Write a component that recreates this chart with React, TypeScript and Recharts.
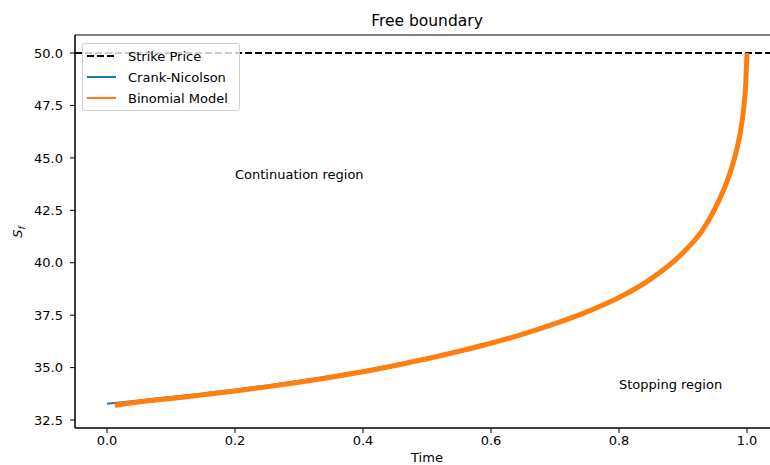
import React from "react";
import {
  LineChart,
  Line,
  XAxis,
  YAxis,
  ReferenceLine,
  ReferenceArea,
  ReferenceDot,
} from "recharts";

// Crank-Nicolson free boundary (time, S_f)
const cnTime = [0, 0.05, 0.1, 0.15, 0.2, 0.25, 0.3, 0.35, 0.4, 0.45, 0.5, 0.55, 0.6, 0.65, 0.7, 0.75, 0.8, 0.85, 0.9, 0.93, 0.95, 0.96, 0.97, 0.98, 0.985, 0.99, 0.995, 0.998, 1.0];
const cnValues = [33.28, 33.43, 33.6, 33.77, 33.95, 34.15, 34.37, 34.6, 34.86, 35.15, 35.47, 35.82, 36.2, 36.63, 37.12, 37.68, 38.36, 39.25, 40.5, 41.55, 42.6, 43.25, 44.0, 44.95, 45.55, 46.3, 47.4, 48.5, 50.0];

// Binomial model boundary (slightly below, starts one step later)
const binTime = [0.012, 0.05, 0.1, 0.15, 0.2, 0.25, 0.3, 0.35, 0.4, 0.45, 0.5, 0.55, 0.6, 0.65, 0.7, 0.75, 0.8, 0.85, 0.9, 0.93, 0.95, 0.96, 0.97, 0.98, 0.985, 0.99, 0.995, 0.998, 1.0];
const binValues = [33.2, 33.36, 33.53, 33.7, 33.88, 34.08, 34.3, 34.54, 34.8, 35.1, 35.42, 35.78, 36.16, 36.6, 37.1, 37.66, 38.34, 39.23, 40.48, 41.53, 42.58, 43.23, 43.98, 44.93, 45.53, 46.28, 47.4, 48.5, 50.0];

const strikePrice = 50;
const xTicks = [0, 0.2, 0.4, 0.6, 0.8, 1.0];
const yTicks = [32.5, 35, 37.5, 40, 42.5, 45, 47.5, 50];
const xDomain = [-0.05, 1.05];
const yDomain = [32.12, 50.86];

const cnData = cnTime.map((t, i) => ({ t, v: cnValues[i] }));
const binData = binTime.map((t, i) => ({ t, v: binValues[i] }));

const FONT = "'DejaVu Sans', sans-serif";
const BLUE = "#1f77b4";
const ORANGE = "#ff7f0e";

function Legend() {
  const rows = [
    { label: "Strike Price", color: "#000", dash: "7 3" },
    { label: "Crank-Nicolson", color: BLUE },
    { label: "Binomial Model", color: ORANGE },
  ];
  return (
    <div
      style={{
        position: "absolute",
        left: 82,
        top: 43,
        width: 156,
        height: 66,
        border: "1px solid #d0d0d0",
        borderRadius: 3,
        background: "rgba(255,255,255,0.8)",
        fontFamily: FONT,
        fontSize: 13,
        color: "#000",
      }}
    >
      {rows.map((r, i) => (
        <div
          key={r.label}
          style={{ position: "absolute", left: 0, top: 3 + i * 21, height: 18, display: "flex", alignItems: "center" }}
        >
          <svg width={40} height={18} style={{ marginLeft: 3 }}>
            <line x1={1} y1={9} x2={30} y2={9} stroke={r.color} strokeWidth={2} strokeDasharray={r.dash} />
          </svg>
          <span style={{ marginLeft: 2 }}>{r.label}</span>
        </div>
      ))}
    </div>
  );
}

export default function App() {
  return (
    <div style={{ position: "absolute", left: 0, top: 0, width: 770, height: 465, overflow: "hidden", background: "#fff" }}>
      <div
        style={{
          position: "absolute",
          left: 0,
          width: 854,
          top: 12,
          textAlign: "center",
          fontFamily: FONT,
          fontSize: 15.5,
          color: "#000",
        }}
      >
        Free boundary
      </div>
      <LineChart
        width={800}
        height={465}
        margin={{ top: 35, right: 21, bottom: 1, left: 15 }}
        style={{ fontFamily: FONT }}
      >
        <XAxis
          type="number"
          dataKey="t"
          domain={xDomain}
          ticks={xTicks}
          allowDataOverflow
          tickFormatter={(v: number) => v.toFixed(1)}
          height={36}
          tickSize={5}
          tickMargin={3}
          stroke="#000"
          tick={{ fill: "#000", fontSize: 13 }}
          label={{ value: "Time", position: "insideBottom", offset: 2, fill: "#000", fontSize: 13 }}
        />
        <YAxis
          type="number"
          dataKey="v"
          domain={yDomain}
          ticks={yTicks}
          allowDataOverflow
          tickFormatter={(v: number) => v.toFixed(1)}
          width={60}
          tickSize={5}
          tickMargin={7}
          stroke="#000"
          tick={{ fill: "#000", fontSize: 13 }}
          label={{
            content: () => (
              <text transform="translate(22,232) rotate(-90)" textAnchor="middle" fontSize={13} fill="#000">
                <tspan fontStyle="italic">S</tspan>
                <tspan fontStyle="italic" fontSize={9} dy={3}>f</tspan>
              </text>
            ),
          }}
        />
        <ReferenceArea
          x1={xDomain[0]}
          x2={xDomain[1]}
          y1={yDomain[0]}
          y2={yDomain[1]}
          fill="none"
          stroke="#000"
          strokeWidth={1}
          ifOverflow="visible"
        />
        <ReferenceLine y={strikePrice} stroke="#000" strokeWidth={2} strokeDasharray="7 3" />
        <Line
          data={cnData}
          dataKey="v"
          type="monotone"
          stroke={BLUE}
          strokeWidth={2}
          dot={false}
          isAnimationActive={false}
        />
        <Line
          data={binData}
          dataKey="v"
          type="monotone"
          stroke={ORANGE}
          strokeWidth={5}
          dot={false}
          isAnimationActive={false}
        />
        <ReferenceDot
          x={0.2}
          y={44}
          r={0}
          fill="none"
          stroke="none"
          label={{
            content: (p: any) => (
              <text x={p.viewBox.x} y={p.viewBox.y} fontSize={13} fill="#000">Continuation region</text>
            ),
          }}
        />
        <ReferenceDot
          x={0.8}
          y={34}
          r={0}
          fill="none"
          stroke="none"
          label={{
            content: (p: any) => (
              <text x={p.viewBox.x} y={p.viewBox.y} fontSize={13} fill="#000">Stopping region</text>
            ),
          }}
        />
      </LineChart>
      <Legend />
    </div>
  );
}
